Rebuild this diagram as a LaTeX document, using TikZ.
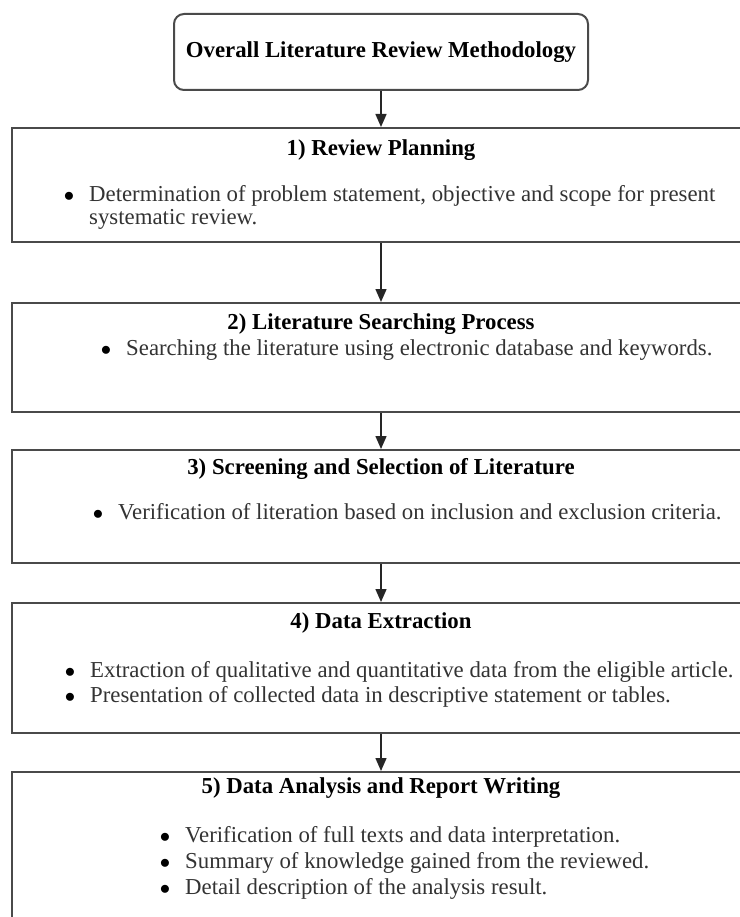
\documentclass[tikz,border=0pt]{standalone}
\usepackage{fontspec}
\setmainfont{Liberation Serif}
\usetikzlibrary{arrows.meta}
\definecolor{boxline}{HTML}{4A4A4A}
\definecolor{txt}{HTML}{333333}
\newcommand\bul{\llap{\textcolor{black}{$\bullet$}\hspace{15pt}}}
\begin{document}
\begin{tikzpicture}[x=1pt,y=-1pt,
  frame/.style={draw=boxline, line width=2pt, fill=white, inner sep=0pt},
  head/.style={font=\fontsize{22.8}{26}\selectfont\bfseries, text=black, inner sep=0pt, text height=15pt, text depth=5pt},
  item/.style={font=\fontsize{22.8}{26}\selectfont, text=txt, inner sep=0pt, anchor=west, text height=15pt, text depth=5pt},
  flow/.style={draw=black!85, line width=1.5pt, -{Triangle[length=13pt,width=11pt]}}
]
\useasboundingbox (0,0) rectangle (739,917);
% title
\node[frame, rounded corners=10pt, minimum width=414pt, minimum height=76pt,
      font=\fontsize{22.8}{26}\selectfont\bfseries] (t) at (381,52) {Overall Literature Review Methodology};
% boxes
\node[frame, minimum width=738pt, minimum height=114pt] (b1) at (381,185) {};
\node[frame, minimum width=738pt, minimum height=109pt] (b2) at (381,357.5) {};
\node[frame, minimum width=738pt, minimum height=113pt] (b3) at (381,506.5) {};
\node[frame, minimum width=738pt, minimum height=130pt] (b4) at (381,668) {};
\node[frame, minimum width=738pt, minimum height=190pt] (b5) at (381,867) {};
% connectors
\draw[flow] (t.south) -- (b1.north);
\draw[flow] (b1.south) -- (b2.north);
\draw[flow] (b2.south) -- (b3.north);
\draw[flow] (b3.south) -- (b4.north);
\draw[flow] (b4.south) -- (b5.north);
% headings
\node[head] (h1) at (381,151) {1) Review Planning};
\node[head] (h2) at (381,324) {2) Literature Searching Process};
\node[head] (h3) at (381,469) {3) Screening and Selection of Literature};
\node[head] (h4) at (381,623) {4) Data Extraction};
\node[head] (h5) at (381,788) {5) Data Analysis and Report Writing};
% items
\node[item] (i1a) at (89,197) {\bul Determination of problem statement, objective and scope for present};
\node[item] (i1b) at (89,220) {systematic review.};
\node[item] (i2a) at (126,350) {\bul Searching the literature using electronic database and keywords.};
\node[item] (i3a) at (118,514) {\bul Verification of literation based on inclusion and exclusion criteria.};
\node[item] (i4a) at (90,672) {\bul Extraction of qualitative and quantitative data from the eligible article.};
\node[item] (i4b) at (90,697) {\bul Presentation of collected data in descriptive statement or tables.};
\node[item] (i5a) at (185,837) {\bul Verification of full texts and data interpretation.};
\node[item] (i5b) at (185,863) {\bul Summary of knowledge gained from the reviewed.};
\node[item] (i5c) at (185,889) {\bul Detail description of the analysis result.};
\end{tikzpicture}
\end{document}
